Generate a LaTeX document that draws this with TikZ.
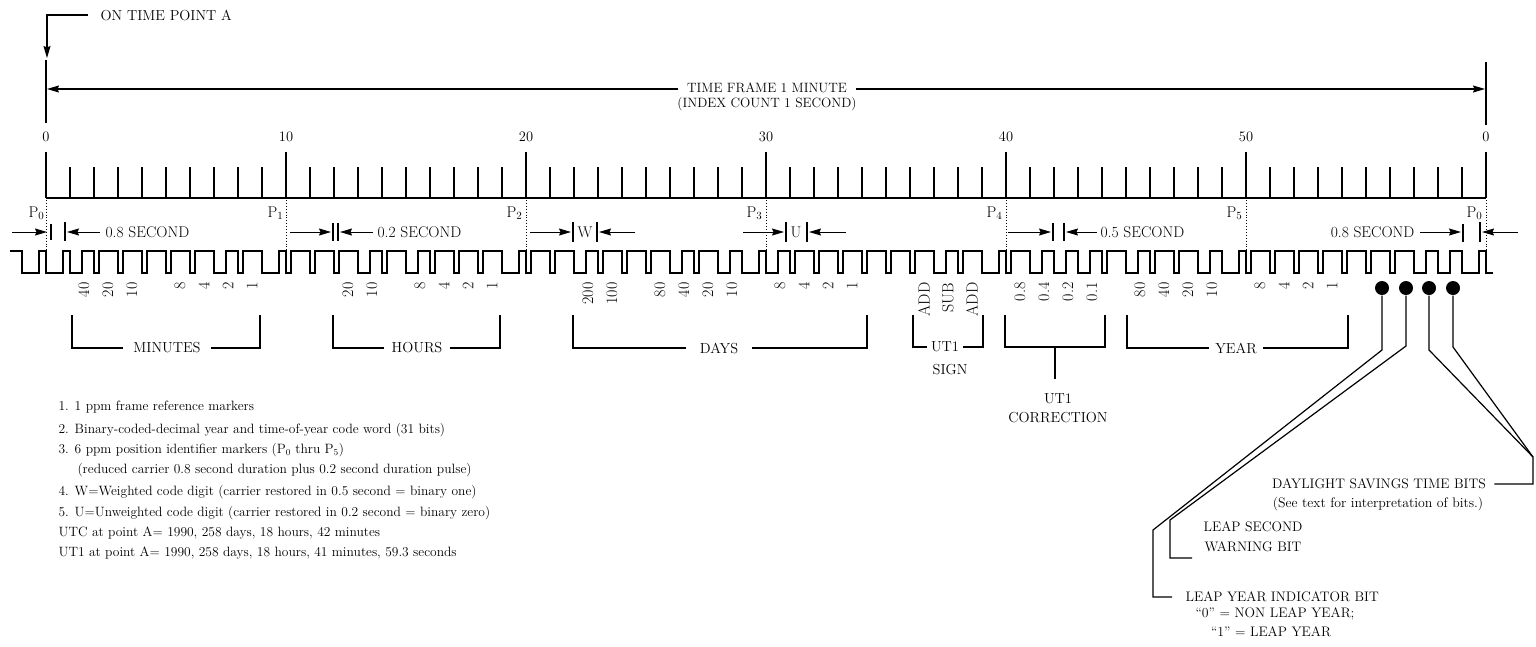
\documentclass[tikz,border=0pt]{standalone}
\usetikzlibrary{arrows.meta}
\begin{document}
\begin{tikzpicture}[x=1pt,y=-1pt,
  line width=1.2pt, line join=miter,
  lbl/.style={font=\fontsize{14.5}{17}\selectfont, inner sep=0pt},
  dlbl/.style={font=\fontsize{15.5}{17}\selectfont, inner sep=0pt},
  brl/.style={lbl, inner xsep=10pt},
  small/.style={font=\fontsize{13.5}{16}\selectfont, inner sep=0pt, anchor=west},
  note/.style={font=\fontsize{13.8}{17.5}\selectfont, inner sep=0pt},
  rot/.style={font=\fontsize{16}{17}\selectfont, rotate=90, anchor=east, inner sep=0pt},
  tip/.style={-{Stealth[length=12pt,width=7pt,inset=1.5pt]}},
  dim/.style={tip, line width=1pt},
  bar/.style={line width=1.1pt},
  dotln/.style={dotted, line width=0.9pt},
  bit/.style={circle, fill=black, inner sep=0pt, minimum size=14pt},
]
\useasboundingbox (0,0) rectangle (1536,646);

% ---- on time point A
\node[lbl, anchor=west] (ontime) at (100,15) {ON TIME POINT A};
\coordinate (otc) at (47,15);
\coordinate (ota) at (47,58);
\draw[tip] ([xshift=-12pt]ontime.west) -- (otc) -- (ota);

% ---- time frame arrow
\coordinate (vl1) at (46,60);  \coordinate (vl2) at (46,123);
\coordinate (vr1) at (1486,62); \coordinate (vr2) at (1486,125);
\draw (vl1) -- (vl2);
\draw (vr1) -- (vr2);
\node[font=\fontsize{13.5}{16}\selectfont, inner sep=0pt] (tf) at (767,88) {TIME FRAME 1 MINUTE};
\node[font=\fontsize{13.5}{16}\selectfont, inner sep=0pt] (tf2) at (767,104) {(INDEX COUNT 1 SECOND)};
\coordinate (tfle) at (47,89); \coordinate (tfre) at (1485,89);
\draw[tip] ([xshift=-8pt]tf.west |- tfle) -- (tfle);
\draw[tip] ([xshift=8pt]tf.east |- tfre) -- (tfre);

% ---- ruler
\draw (46,198) -- (1486,198);
\foreach \s in {0,...,60}{
  \pgfmathtruncatemacro\m{mod(\s,10)}
  \ifnum\m=0
    \draw ({46+24*\s},152) -- ({46+24*\s},198);
  \else
    \draw ({46+24*\s},167) -- ({46+24*\s},198);
  \fi
}
\foreach \s/\t in {0/0,10/10,20/20,30/30,40/40,50/50,60/0}
  \node[lbl] (n\s) at ({46+24*\s},137) {\t};

% ---- dotted position markers
\foreach \s in {0,10,20,30,40,50,60}
  \draw[dotln] ({46+24*\s},200) -- ({46+24*\s},250);
\node[dlbl, anchor=east] (p0a) at (45,213) {P$_0$};
\node[dlbl, anchor=east] (p1) at (284,213) {P$_1$};
\node[dlbl, anchor=east] (p2) at (523,213) {P$_2$};
\node[dlbl, anchor=east] (p3) at (763,213) {P$_3$};
\node[dlbl, anchor=east] (p4) at (1003,213) {P$_4$};
\node[dlbl, anchor=east] (p5) at (1243,213) {P$_5$};
\node[dlbl, anchor=east] (p0b) at (1483,213) {P$_0$};

% ---- pulse train
\draw (10,251)
  \foreach \w [count=\i] in {17,17,12,5,5,5,5,5,12,5,17,5,5,5,12,5,12,5,5,5,17,5,5,12,5,5,5,12,5,12,17,12,5,5,5,5,5,5,12,5,17,5,12,12,12,5,12,5,5,12,17,5,5,5,5,5,5,5,12,12,17}
  { -- ({24*\i-2},251) -- ({24*\i-2},273) -- ({24*\i-2+\w},273) -- ({24*\i-2+\w},251) }
  -- (1486,251) -- (1486,273) -- (1493,273);

% ---- dimension marks
\draw[dim] (12,232) -- (47,232);
\draw[bar] (51,224) -- (51,240);
\draw[bar] (65,222) -- (65,241);
\draw[dim] (100,232) -- (67,232);
\node[dlbl, anchor=west] (s08a) at (105,232) {0.8 SECOND};

\draw[dim] (290,232) -- (331,232);
\draw[bar] (333,223) -- (333,241);
\draw[bar] (338,223) -- (338,241);
\draw[dim] (373,232) -- (340,232);
\node[dlbl, anchor=west] (s02) at (377,232) {0.2 SECOND};

\draw[dim] (530,232) -- (571,232);
\draw[bar] (573,222) -- (573,242);
\node[dlbl] (wlab) at (585,232) {W};
\draw[bar] (597,222) -- (597,242);
\draw[dim] (635,232) -- (599,232);

\draw[dim] (743,232) -- (784,232);
\draw[bar] (786,222) -- (786,242);
\node[dlbl] (ulab) at (796,232) {U};
\draw[bar] (807,222) -- (807,242);
\draw[dim] (846,232) -- (809,232);

\draw[dim] (1008,232) -- (1051,232);
\draw[bar] (1053,223) -- (1053,241);
\draw[bar] (1064,223) -- (1064,241);
\draw[dim] (1097,232) -- (1066,232);
\node[dlbl, anchor=west] (s05) at (1100,232) {0.5 SECOND};

\node[dlbl, anchor=east] (s08b) at (1415,232) {0.8 SECOND};
\draw[dim] (1420,232) -- (1461,232);
\draw[bar] (1463,224) -- (1463,242);
\draw[bar] (1480,222) -- (1480,242);
\draw[dim] (1518,232) -- (1482,232);

% ---- weights
\foreach \s/\t in {1/40,2/20,3/10,5/8,6/4,7/2,8/1,12/20,13/10,15/8,16/4,17/2,18/1,22/200,23/100,25/80,26/40,27/20,28/10,30/8,31/4,32/2,33/1,36/ADD,37/SUB,38/ADD,40/0.8,41/0.4,42/0.2,43/0.1,45/80,46/40,47/20,48/10,50/8,51/4,52/2,53/1}
  \node[rot] (w\s) at ({60+24*\s},282) {\t};

% ---- brackets
\node[brl] (minutes) at (167,348) {MINUTES};
\draw (72,315) -- (72,348) -- (minutes.west);
\draw (minutes.east) -- (260,348) -- (260,315);

\node[brl, inner xsep=7pt] (hours) at (417,348) {HOURS};
\draw (333,315) -- (333,348) -- (hours.west);
\draw (hours.east) -- (500,348) -- (500,315);

\node[brl, inner xsep=13pt] (days) at (719,348) {DAYS};
\draw (573,315) -- (573,348) -- (days.west);
\draw (days.east) -- (867,348) -- (867,315);

\node[brl, inner xsep=3pt] (ut1s) at (945,347) {UT1};
\draw (913,315) -- (913,347) -- (ut1s.west);
\draw (ut1s.east) -- (983,347) -- (983,315);
\node[lbl] (sign) at (950,370) {SIGN};

\coordinate (ucm) at (1055,347);
\draw (1005,315) -- (1005,347) -- (1105,347) -- (1105,315);
\node[lbl, align=center, font=\fontsize{14.5}{19}\selectfont] (ut1c) at (1058,408) {UT1\\CORRECTION};
\draw (ucm) -- (1055,379);

\node[brl, inner xsep=6pt] (year) at (1236,348) {YEAR};
\draw (1127,315) -- (1127,348) -- (year.west);
\draw (year.east) -- (1348,348) -- (1348,315);

% ---- special bits
\node[bit] (d1) at (1382,288) {};
\node[bit] (d2) at (1406,288) {};
\node[bit] (d3) at (1429,288) {};
\node[bit] (d4) at (1453,288) {};

\node[note, anchor=west] (ly1) at (1185,597) {LEAP YEAR INDICATOR BIT};
\node[note] (ly2) at (1275,614) {``0'' = NON LEAP YEAR;};
\node[note] (ly3) at (1271,632) {``1'' = LEAP YEAR};
\draw (d1) -- (1382,350) -- (1153,530) -- (1153,597) -- ([xshift=-13pt]ly1.west);

\node[note, align=center, anchor=west, font=\fontsize{13.8}{20}\selectfont] (ls) at (1203,537) {LEAP SECOND\\WARNING BIT};
\draw (d2) -- (1406,346) -- (1170,520) -- (1170,558) -- (1192,558);

\node[note] (dst) at (1379,484) {DAYLIGHT SAVINGS TIME BITS};
\node[note] (dst2) at (1378,504) {(See text for interpretation of bits.)};
\coordinate (dj) at (1533,457);
\coordinate (dk) at (1533,484);
\draw (d3) -- (1429,350) -- (dj) -- (dk) -- ([xshift=8pt]dst.east |- dk);
\draw (d4) -- (1453,347) -- (dj);

% ---- notes
\node[small] (f1) at (58,407) {1. 1 ppm frame reference markers};
\node[small] (f2) at (58,430) {2. Binary-coded-decimal year and time-of-year code word (31 bits)};
\node[small] (f3) at (58,450) {3. 6 ppm position identifier markers (P$_0$ thru P$_5$)};
\node[small] (f4) at (77,470) {(reduced carrier 0.8 second duration plus 0.2 second duration pulse)};
\node[small] (f5) at (58,492) {4. W=Weighted code digit (carrier restored in 0.5 second = binary one)};
\node[small] (f6) at (58,513) {5. U=Unweighted code digit (carrier restored in 0.2 second = binary zero)};
\node[small] (f7) at (58,533) {UTC at point A= 1990, 258 days, 18 hours, 42 minutes};
\node[small] (f8) at (58,553) {UT1 at point A= 1990, 258 days, 18 hours, 41 minutes, 59.3 seconds};
\end{tikzpicture}
\end{document}
